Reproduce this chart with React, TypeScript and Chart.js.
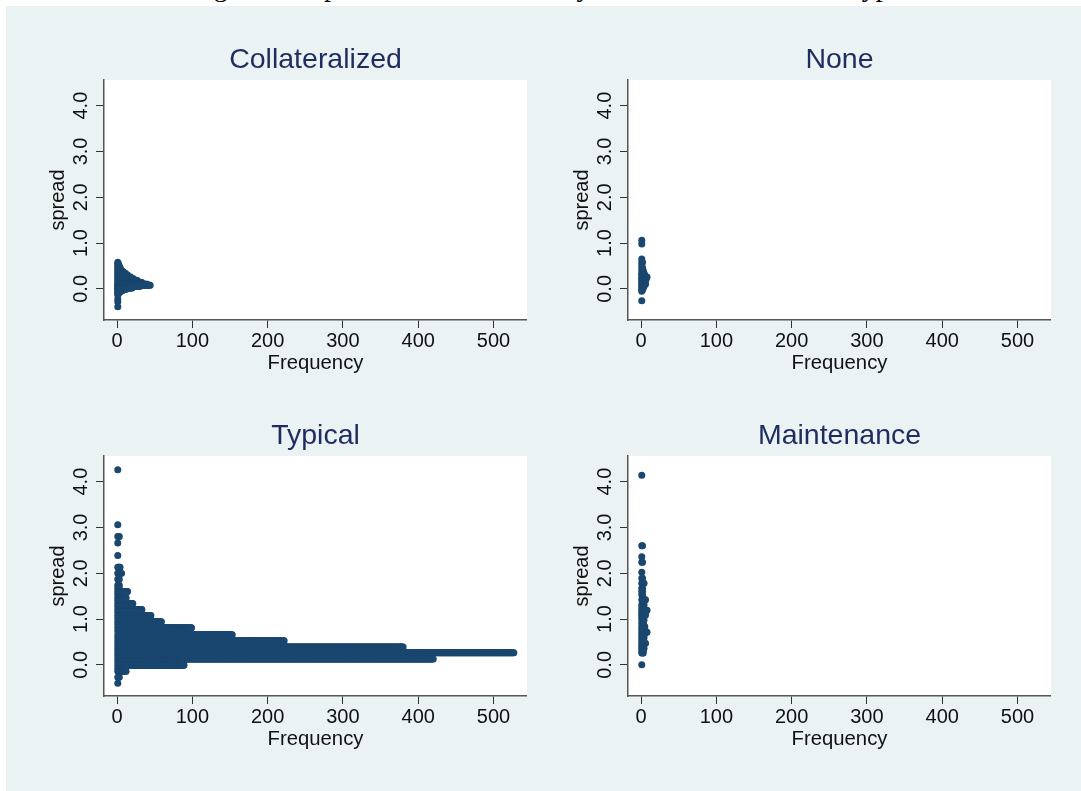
import { useEffect, useRef } from "react";
import { Chart, registerables } from "chart.js";

Chart.register(...registerables);

const captionStart = "Histogram of ";
const captionEnd = "Spreads Distribution by Financial Covenant Type";
const xTicks = [0, 100, 200, 300, 400, 500];
const yTicks = [0, 1, 2, 3, 4];

const collateralizedSpread = [0.58, 0.54, 0.5, 0.46, 0.42, 0.38, 0.34, 0.3, 0.26, 0.22, 0.18, 0.14, 0.1, 0.08, 0.05, 0.02, -0.01, -0.04, -0.07, -0.1, -0.13, -0.22, -0.28, -0.39];
const collateralizedFreq = [1, 2, 3, 4, 5, 8, 11, 14, 18, 22, 27, 33, 40, 44, 30, 20, 12, 7, 4, 2, 1, 1, 1, 1];

const noneSpread = [1.06, 0.98, 0.65, 0.58, 0.52, 0.46, 0.4, 0.34, 0.3, 0.26, 0.22, 0.18, 0.14, 0.1, 0.06, 0.02, -0.02, -0.05, -0.26];
const noneFreq = [1, 1, 1, 2, 1, 2, 3, 4, 5, 8, 7, 6, 5, 6, 4, 3, 2, 1, 1];

const typicalSpread = [4.26, 3.06, 2.8, 2.66, 2.39, 2.13, 2.0, 1.87, 1.74, 1.67, 1.6, 1.54, 1.47, 1.41, 1.34, 1.28, 1.21, 1.15, 1.08, 1.01, 0.94, 0.88, 0.81, 0.74, 0.66, 0.59, 0.525, 0.46, 0.39, 0.33, 0.265, 0.2, 0.13, 0.06, -0.01, -0.08, -0.14, -0.27, -0.4];
const typicalFreq = [1, 1, 3, 1, 1, 4, 6, 3, 3, 3, 14, 11, 12, 12, 21, 20, 33, 32, 45, 44, 59, 57, 99, 97, 153, 150, 222, 215, 380, 370, 527, 415, 420, 88, 89, 11, 12, 3, 1];

const maintenanceSpread = [4.14, 2.6, 2.36, 2.24, 2.02, 1.89, 1.78, 1.67, 1.6, 1.53, 1.42, 1.31, 1.25, 1.19, 1.14, 1.09, 1.04, 0.98, 0.91, 0.84, 0.78, 0.71, 0.65, 0.59, 0.53, 0.47, 0.41, 0.36, 0.31, 0.26, 0.0];
const maintenanceFreq = [1, 2, 1, 2, 1, 2, 4, 2, 2, 2, 6, 4, 3, 8, 5, 6, 3, 4, 3, 5, 5, 8, 4, 4, 3, 6, 3, 4, 3, 3, 1];

const panels = [
  { title: "Collateralized", spread: collateralizedSpread, freq: collateralizedFreq, left: 40, top: 40 },
  { title: "None", spread: noneSpread, freq: noneFreq, left: 564, top: 40 },
  { title: "Typical", spread: typicalSpread, freq: typicalFreq, left: 40, top: 416 },
  { title: "Maintenance", spread: maintenanceSpread, freq: maintenanceFreq, left: 564, top: 416 },
];

const FONT = "'Liberation Sans', Arial, sans-serif";

function dots(spread: number[], freq: number[]) {
  const out: { x: number; y: number }[] = [];
  spread.forEach((y, i) => {
    for (let n = 1; n <= freq[i]; n++) out.push({ x: n, y });
  });
  return out;
}

function Panel({ p }: { p: (typeof panels)[number] }) {
  const ref = useRef<HTMLCanvasElement>(null);
  useEffect(() => {
    const chart = new Chart(ref.current!, {
      type: "scatter",
      data: {
        datasets: [
          {
            data: dots(p.spread, p.freq),
            backgroundColor: "#1a476f",
            borderWidth: 0,
            pointRadius: 3.5,
            pointHoverRadius: 3.5,
          },
        ],
      },
      options: {
        animation: false,
        responsive: false,
        devicePixelRatio: 1,
        layout: { autoPadding: false, padding: { top: 40, right: 0, left: 0, bottom: 0 } },
        plugins: { legend: { display: false }, tooltip: { enabled: false }, title: { display: false } },
        scales: {
          x: {
            type: "linear",
            min: -17.3,
            max: 544.5,
            afterBuildTicks: (s: any) => {
              s.ticks = xTicks.map((value) => ({ value }));
            },
            afterFit: (s: any) => {
              s.height = 55;
            },
            border: { color: "#555555", width: 1.5 },
            grid: { drawOnChartArea: false, tickLength: 8, tickColor: "#333333", tickWidth: 1 },
            ticks: { color: "#111111", font: { family: FONT, size: 20 }, padding: 1, maxRotation: 0, minRotation: 0 },
            title: { display: true, text: "Frequency", color: "#111111", font: { family: FONT, size: 20.3 }, padding: { top: 0, bottom: -1 } },
          },
          y: {
            type: "linear",
            min: -0.68,
            max: 4.56,
            afterBuildTicks: (s: any) => {
              s.ticks = yTicks.map((value) => ({ value }));
            },
            afterFit: (s: any) => {
              s.width = 64;
            },
            border: { color: "#555555", width: 1.5 },
            grid: { drawOnChartArea: false, tickLength: 8, tickColor: "#333333", tickWidth: 1 },
            ticks: {
              color: "#111111",
              font: { family: FONT, size: 20 },
              minRotation: 90,
              maxRotation: 90,
              padding: 1,
              crossAlign: "center",
              callback: (v: any) => Number(v).toFixed(1),
            },
            title: { display: true, text: "spread", color: "#111111", font: { family: FONT, size: 20 }, padding: { top: 6, bottom: 0 } },
          },
        },
      },
      plugins: [
        {
          id: "panelDecor",
          beforeDraw(c: any) {
            const a = c.chartArea;
            c.ctx.save();
            c.ctx.fillStyle = "#ffffff";
            c.ctx.fillRect(a.left, a.top, a.right - a.left, a.bottom - a.top);
            c.ctx.restore();
          },
          afterDraw(c: any) {
            const a = c.chartArea;
            const ctx = c.ctx;
            ctx.save();
            ctx.fillStyle = "#1e2d5e";
            ctx.font = `28.5px ${FONT}`;
            ctx.textAlign = "center";
            ctx.textBaseline = "alphabetic";
            ctx.fillText(p.title, (a.left + a.right) / 2, a.top - 12);
            ctx.restore();
          },
        },
      ],
    } as any);
    return () => chart.destroy();
  }, []);
  return (
    <canvas
      ref={ref}
      width={487}
      height={335}
      style={{ position: "absolute", left: p.left, top: p.top, width: 487, height: 335 }}
    />
  );
}

export default function App() {
  return (
    <div style={{ position: "absolute", left: 0, top: 0, width: 1081, height: 791, overflow: "hidden", background: "#ffffff" }}>
      <div
        style={{
          position: "absolute",
          left: 153,
          top: -29,
          whiteSpace: "nowrap",
          fontFamily: "'Liberation Serif', 'Times New Roman', serif",
          fontSize: 28,
          lineHeight: "32px",
          color: "#000",
        }}
      >
        {captionStart}
        <span style={{ wordSpacing: 8 }}>{captionEnd}</span>
      </div>
      <div style={{ position: "absolute", left: 6, top: 6, right: 0, bottom: 0, background: "#eaf2f3" }} />
      {panels.map((p) => (
        <Panel key={p.title} p={p} />
      ))}
    </div>
  );
}
